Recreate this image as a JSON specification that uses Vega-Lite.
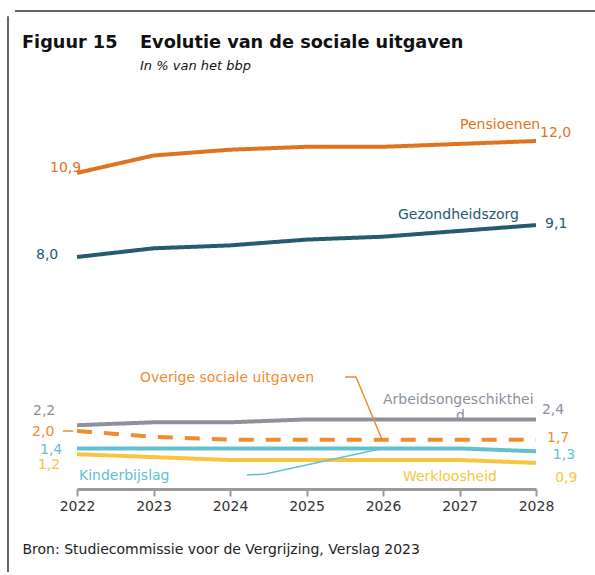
{
  "$schema": "https://vega.github.io/schema/vega-lite/v6.json",
  "autosize": "none",
  "width": 459,
  "height": 377,
  "padding": {"left": 77, "top": 112, "right": 59, "bottom": 86},
  "background": "white",
  "config": {
    "view": {"stroke": null},
    "font": "DejaVu Sans",
    "axisX": {
      "tickCount": 6,
      "format": "d",
      "grid": false,
      "labelFont": "DejaVu Sans",
      "labelFontSize": 14,
      "labelColor": "#333333",
      "labelPadding": 3,
      "labelFlush": false,
      "domainColor": "#9a9a9a",
      "domainWidth": 3,
      "tickColor": "#9a9a9a",
      "tickWidth": 2,
      "tickSize": 7,
      "titleFont": "DejaVu Sans",
      "titleFontSize": 14,
      "titleFontWeight": "normal",
      "titleColor": "#222222",
      "titleAnchor": null,
      "titleAlign": "left",
      "titleBaseline": "alphabetic",
      "titleX": -55,
      "titleY": 64
    }
  },
  "datasets": {
    "series": [
      {"series": "Pensioenen", "year": 2022, "value": 10.9},
      {"series": "Pensioenen", "year": 2023, "value": 11.5},
      {"series": "Pensioenen", "year": 2024, "value": 11.7},
      {"series": "Pensioenen", "year": 2025, "value": 11.8},
      {"series": "Pensioenen", "year": 2026, "value": 11.8},
      {"series": "Pensioenen", "year": 2027, "value": 11.9},
      {"series": "Pensioenen", "year": 2028, "value": 12.0},
      {"series": "Gezondheidszorg", "year": 2022, "value": 8.0},
      {"series": "Gezondheidszorg", "year": 2023, "value": 8.3},
      {"series": "Gezondheidszorg", "year": 2024, "value": 8.4},
      {"series": "Gezondheidszorg", "year": 2025, "value": 8.6},
      {"series": "Gezondheidszorg", "year": 2026, "value": 8.7},
      {"series": "Gezondheidszorg", "year": 2027, "value": 8.9},
      {"series": "Gezondheidszorg", "year": 2028, "value": 9.1},
      {"series": "Arbeidsongeschiktheid", "year": 2022, "value": 2.2},
      {"series": "Arbeidsongeschiktheid", "year": 2023, "value": 2.3},
      {"series": "Arbeidsongeschiktheid", "year": 2024, "value": 2.3},
      {"series": "Arbeidsongeschiktheid", "year": 2025, "value": 2.4},
      {"series": "Arbeidsongeschiktheid", "year": 2026, "value": 2.4},
      {"series": "Arbeidsongeschiktheid", "year": 2027, "value": 2.4},
      {"series": "Arbeidsongeschiktheid", "year": 2028, "value": 2.4},
      {"series": "Overige sociale uitgaven", "year": 2022, "value": 2.0},
      {"series": "Overige sociale uitgaven", "year": 2023, "value": 1.8},
      {"series": "Overige sociale uitgaven", "year": 2024, "value": 1.7},
      {"series": "Overige sociale uitgaven", "year": 2025, "value": 1.7},
      {"series": "Overige sociale uitgaven", "year": 2026, "value": 1.7},
      {"series": "Overige sociale uitgaven", "year": 2027, "value": 1.7},
      {"series": "Overige sociale uitgaven", "year": 2028, "value": 1.7},
      {"series": "Kinderbijslag", "year": 2022, "value": 1.4},
      {"series": "Kinderbijslag", "year": 2023, "value": 1.4},
      {"series": "Kinderbijslag", "year": 2024, "value": 1.4},
      {"series": "Kinderbijslag", "year": 2025, "value": 1.4},
      {"series": "Kinderbijslag", "year": 2026, "value": 1.4},
      {"series": "Kinderbijslag", "year": 2027, "value": 1.4},
      {"series": "Kinderbijslag", "year": 2028, "value": 1.3},
      {"series": "Werkloosheid", "year": 2022, "value": 1.2},
      {"series": "Werkloosheid", "year": 2023, "value": 1.1},
      {"series": "Werkloosheid", "year": 2024, "value": 1.0},
      {"series": "Werkloosheid", "year": 2025, "value": 1.0},
      {"series": "Werkloosheid", "year": 2026, "value": 1.0},
      {"series": "Werkloosheid", "year": 2027, "value": 1.0},
      {"series": "Werkloosheid", "year": 2028, "value": 0.9}
    ],
    "labels": [
      {"series": "Pensioenen", "text": "10,9", "year": 2021.647, "value": 11.07},
      {"series": "Pensioenen", "text": "12,0", "year": 2028.052, "value": 12.28},
      {"series": "Pensioenen", "text": "Pensioenen", "year": 2027.007, "value": 12.55},
      {"series": "Gezondheidszorg", "text": "8,0", "year": 2021.464, "value": 8.07},
      {"series": "Gezondheidszorg", "text": "9,1", "year": 2028.118, "value": 9.14},
      {"series": "Gezondheidszorg", "text": "Gezondheidszorg", "year": 2026.196, "value": 9.45},
      {"series": "Arbeidsongeschiktheid", "text": "2,2", "year": 2021.425, "value": 2.69},
      {"series": "Arbeidsongeschiktheid", "text": "2,4", "year": 2028.078, "value": 2.72},
      {"series": "Arbeidsongeschiktheid", "text": "Arbeidsongeschikthei", "year": 2026.0, "value": 3.07},
      {"series": "Arbeidsongeschiktheid", "text": "d", "year": 2026.954, "value": 2.52},
      {"series": "Overige sociale uitgaven", "text": "2,0", "year": 2021.412, "value": 1.97},
      {"series": "Overige sociale uitgaven", "text": "1,7", "year": 2028.144, "value": 1.76},
      {"series": "Overige sociale uitgaven", "text": "Overige sociale uitgaven", "year": 2022.824, "value": 3.83},
      {"series": "Kinderbijslag", "text": "1,4", "year": 2021.516, "value": 1.34},
      {"series": "Kinderbijslag", "text": "1,3", "year": 2028.22, "value": 1.17},
      {"series": "Kinderbijslag", "text": "Kinderbijslag", "year": 2022.026, "value": 0.45},
      {"series": "Werkloosheid", "text": "1,2", "year": 2021.49, "value": 0.83},
      {"series": "Werkloosheid", "text": "0,9", "year": 2028.25, "value": 0.38},
      {"series": "Werkloosheid", "text": "Werkloosheid", "year": 2026.26, "value": 0.41}
    ],
    "leaders": [
      {"series": "Overige sociale uitgaven", "leader": "overige", "order": 1, "year": 2025.503, "value": 3.86},
      {"series": "Overige sociale uitgaven", "leader": "overige", "order": 2, "year": 2025.647, "value": 3.86},
      {"series": "Overige sociale uitgaven", "leader": "overige", "order": 3, "year": 2025.99, "value": 1.69},
      {"series": "Overige sociale uitgaven", "leader": "twee", "order": 1, "year": 2021.817, "value": 2.0},
      {"series": "Overige sociale uitgaven", "leader": "twee", "order": 2, "year": 2021.95, "value": 2.0},
      {"series": "Kinderbijslag", "leader": "kinder", "order": 1, "year": 2024.222, "value": 0.48},
      {"series": "Kinderbijslag", "leader": "kinder", "order": 2, "year": 2024.458, "value": 0.52},
      {"series": "Kinderbijslag", "leader": "kinder", "order": 3, "year": 2025.96, "value": 1.38}
    ]
  },
  "layer": [
    {
      "data": {"values": [{}]},
      "mark": {"type": "rule", "color": "#333333", "strokeWidth": 1.5},
      "encoding": {
        "x": {"datum": 2021.098, "type": "quantitative", "scale": {"domain": [2022, 2028], "nice": false, "zero": false}, "axis": {"title": "Bron: Studiecommissie voor de Vergrijzing, Verslag 2023"}},
        "y": {"datum": 16.3, "type": "quantitative", "scale": {"domain": [0, 13], "nice": false, "zero": false}, "axis": null},
        "y2": {"datum": -2.86}
      }
    },
    {
      "data": {"values": [{}]},
      "mark": {"type": "rule", "color": "#333333", "strokeWidth": 1.5},
      "encoding": {
        "x": {"datum": 2021.19, "type": "quantitative", "scale": {"domain": [2022, 2028], "nice": false, "zero": false}, "axis": {"title": "Bron: Studiecommissie voor de Vergrijzing, Verslag 2023"}},
        "x2": {"datum": 2028.8},
        "y": {"datum": 16.48, "type": "quantitative", "scale": {"domain": [0, 13], "nice": false, "zero": false}, "axis": null}
      }
    },
    {
      "data": {"values": [{"text": "Figuur 15"}]},
      "mark": {"type": "text", "align": "left", "baseline": "alphabetic", "font": "DejaVu Sans", "fontSize": 17.7, "fontWeight": "bold", "color": "#111111"},
      "encoding": {
        "x": {"datum": 2021.281, "type": "quantitative", "scale": {"domain": [2022, 2028], "nice": false, "zero": false}, "axis": {"title": "Bron: Studiecommissie voor de Vergrijzing, Verslag 2023"}},
        "y": {"datum": 15.21, "type": "quantitative", "scale": {"domain": [0, 13], "nice": false, "zero": false}, "axis": null},
        "text": {"field": "text"}
      }
    },
    {
      "data": {"values": [{"text": "Evolutie van de sociale uitgaven"}]},
      "mark": {"type": "text", "align": "left", "baseline": "alphabetic", "font": "DejaVu Sans", "fontSize": 17.7, "fontWeight": "bold", "color": "#111111"},
      "encoding": {
        "x": {"datum": 2022.824, "type": "quantitative", "scale": {"domain": [2022, 2028], "nice": false, "zero": false}, "axis": {"title": "Bron: Studiecommissie voor de Vergrijzing, Verslag 2023"}},
        "y": {"datum": 15.21, "type": "quantitative", "scale": {"domain": [0, 13], "nice": false, "zero": false}, "axis": null},
        "text": {"field": "text"}
      }
    },
    {
      "data": {"values": [{"text": "In % van het bbp"}]},
      "mark": {"type": "text", "align": "left", "baseline": "alphabetic", "font": "DejaVu Sans", "fontSize": 13, "fontStyle": "italic", "color": "#111111"},
      "encoding": {
        "x": {"datum": 2022.824, "type": "quantitative", "scale": {"domain": [2022, 2028], "nice": false, "zero": false}, "axis": {"title": "Bron: Studiecommissie voor de Vergrijzing, Verslag 2023"}},
        "y": {"datum": 14.45, "type": "quantitative", "scale": {"domain": [0, 13], "nice": false, "zero": false}, "axis": null},
        "text": {"field": "text"}
      }
    },
    {
      "data": {"name": "labels"},
      "mark": {"type": "text", "align": "left", "baseline": "middle", "font": "DejaVu Sans", "fontSize": 14},
      "encoding": {
        "x": {"field": "year", "type": "quantitative", "scale": {"domain": [2022, 2028], "nice": false, "zero": false}, "axis": {"title": "Bron: Studiecommissie voor de Vergrijzing, Verslag 2023"}},
        "y": {"field": "value", "type": "quantitative", "scale": {"domain": [0, 13], "nice": false, "zero": false}, "axis": null},
        "text": {"field": "text"},
        "color": {"field": "series", "type": "nominal", "legend": null,
          "scale": {
            "domain": ["Pensioenen", "Gezondheidszorg", "Arbeidsongeschiktheid", "Overige sociale uitgaven", "Kinderbijslag", "Werkloosheid"],
            "range": ["#E0731E", "#245B6E", "#8C919C", "#F28A2E", "#62C1D1", "#F9C440"]
          }}
      }
    },
    {
      "data": {"name": "series"},
      "mark": {"type": "line", "strokeWidth": 4, "strokeCap": "butt"},
      "encoding": {
        "x": {"field": "year", "type": "quantitative", "scale": {"domain": [2022, 2028], "nice": false, "zero": false}, "axis": {"title": "Bron: Studiecommissie voor de Vergrijzing, Verslag 2023"}},
        "y": {"field": "value", "type": "quantitative", "scale": {"domain": [0, 13], "nice": false, "zero": false}, "axis": null},
        "color": {"field": "series", "type": "nominal", "legend": null},
        "strokeDash": {"field": "series", "type": "nominal", "legend": null,
          "scale": {
            "domain": ["Pensioenen", "Gezondheidszorg", "Arbeidsongeschiktheid", "Overige sociale uitgaven", "Kinderbijslag", "Werkloosheid"],
            "range": [[1, 0], [1, 0], [1, 0], [15, 12], [1, 0], [1, 0]]
          }}
      }
    },
    {
      "data": {"name": "leaders"},
      "mark": {"type": "line", "strokeWidth": 1.5},
      "encoding": {
        "x": {"field": "year", "type": "quantitative", "scale": {"domain": [2022, 2028], "nice": false, "zero": false}, "axis": {"title": "Bron: Studiecommissie voor de Vergrijzing, Verslag 2023"}},
        "y": {"field": "value", "type": "quantitative", "scale": {"domain": [0, 13], "nice": false, "zero": false}, "axis": null},
        "detail": {"field": "leader"},
        "order": {"field": "order"},
        "color": {"field": "series", "type": "nominal", "legend": null}
      }
    }
  ]
}
